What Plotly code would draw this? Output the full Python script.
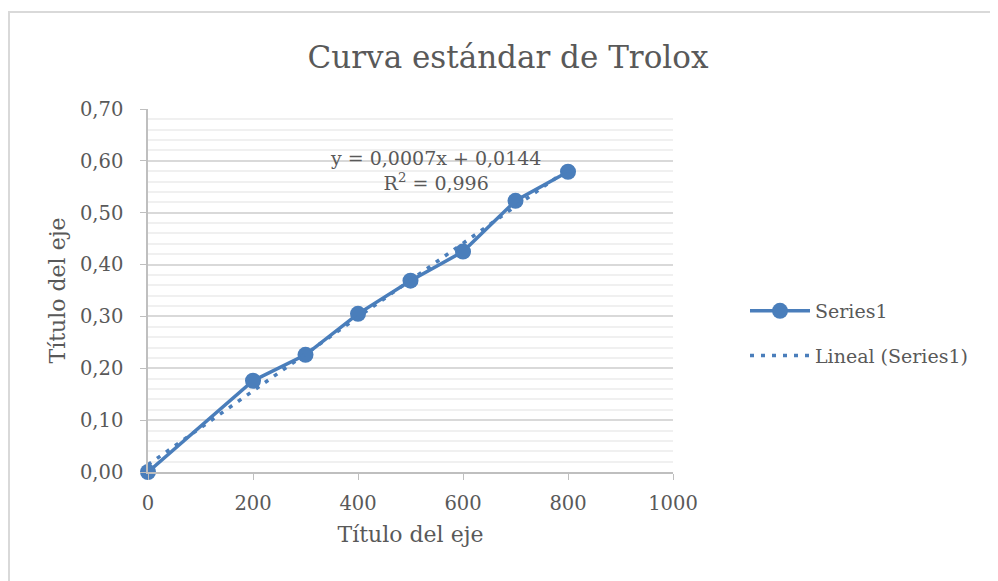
import numpy as np
import plotly.graph_objects as go

concentration = [0, 200, 300, 400, 500, 600, 700, 800]
absorbance = [0.000, 0.176, 0.226, 0.305, 0.369, 0.425, 0.523, 0.579]
title_text = "Curva estándar de Trolox"
axis_title = "Título del eje"
eq_text = "y = 0,0007x + 0,0144<br>R<sup>2</sup> = 0,996"

color = "#4A7EBB"
font_family = "DejaVu Serif"
gray = "#595959"

slope, intercept = np.polyfit(concentration, absorbance, 1)
trend_x = [concentration[0], concentration[-1]]
trend_y = [slope * v + intercept for v in trend_x]

fig = go.Figure()
fig.add_trace(go.Scatter(
    x=concentration, y=absorbance, mode="lines+markers", name="Series1",
    legendgroup="a", cliponaxis=False,
    line=dict(color=color, width=3.5), marker=dict(color=color, size=16),
))
fig.add_trace(go.Scatter(
    x=trend_x, y=trend_y, mode="lines", name="Lineal (Series1)",
    legendgroup="b",
    line=dict(color=color, width=3.5, dash="4px,7px"),
))

# page body has an 8px margin, so figure coords = screen coords - 8
W, H = 998, 581
OFF = 8
L, R, T, B = 148 - OFF, 673 - OFF, 109 - OFF, 472 - OFF
pw, ph = R - L, B - T

fig.update_layout(
    width=W, height=H,
    margin=dict(l=L, r=W - R, t=T, b=H - B),
    paper_bgcolor="white", plot_bgcolor="white",
    separators=",.",
    font=dict(family=font_family, color=gray, size=19),
    title=dict(text=title_text, x=(508 - OFF) / W, xanchor="center",
               y=1 - (57 - OFF) / H, yanchor="middle",
               font=dict(size=31, color=gray, family=font_family)),
    showlegend=True,
    legend=dict(x=(745 - OFF - L) / pw, y=(B - (292 - OFF)) / ph, xanchor="left", yanchor="top",
                font=dict(size=19, color=gray), bgcolor="rgba(0,0,0,0)",
                itemwidth=60, tracegroupgap=17, traceorder="grouped"),
    xaxis=dict(range=[0, 1000], dtick=200, tick0=0, showgrid=False,
               showline=True, linecolor="#BFBFBF", linewidth=1.5,
               ticks="outside", ticklen=6, tickcolor="#BFBFBF",
               ticklabelstandoff=7,
               tickfont=dict(size=19.5, color=gray), zeroline=False,
               title=dict(text=axis_title, font=dict(size=22, color=gray), standoff=12)),
    yaxis=dict(range=[0, 0.7], dtick=0.1, tick0=0, tickformat=".2f",
               showgrid=True, gridcolor="#D9D9D9", gridwidth=1.5,
               minor=dict(dtick=0.02, showgrid=True, gridcolor="#F0F0F0", gridwidth=1.5),
               showline=True, linecolor="#BFBFBF", linewidth=1.5,
               ticks="outside", ticklen=6, tickcolor="#BFBFBF",
               ticklabelstandoff=13,
               tickfont=dict(size=19.5, color=gray), zeroline=False,
               title=dict(text=axis_title, font=dict(size=22, color=gray), standoff=8)),
    annotations=[dict(x=548, y=0.581, xref="x", yref="y", text=eq_text, showarrow=False,
                      font=dict(size=19, color=gray, family=font_family), align="center")],
    shapes=[dict(type="rect", xref="paper", yref="paper",
                 x0=(9 - OFF - L) / pw, x1=(1010 - OFF - L) / pw,
                 y0=(B - 600) / ph, y1=(B - (12 - OFF)) / ph,
                 line=dict(color="#D9D9D9", width=2), layer="below")],
)

fig.write_html("out.html")
